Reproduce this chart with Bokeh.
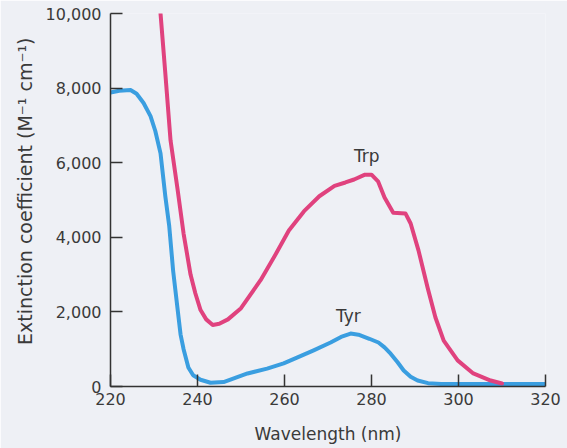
from bokeh.plotting import figure
from bokeh.models import Range1d, Label, FixedTicker, NumeralTickFormatter, Title
from bokeh.embed import file_html
from bokeh.resources import INLINE

# Wavelength (nm) and extinction coefficient (M^-1 cm^-1)
trp_wl = [231.5, 232.6, 233.8, 235.4, 236.8, 238.4, 239.5, 240.7, 242.0, 243.5, 245.0,
          247.0, 250.0, 254.5, 258.0, 261.0, 264.5, 268.0, 271.5, 274.0, 276.0, 278.5,
          280.0, 281.5, 283.0, 285.0, 287.8, 289.0, 290.8, 292.9, 294.7, 296.6, 299.8,
          303.4, 307.4, 310.0]
trp_eps = [10000, 8400, 6600, 5300, 4100, 3000, 2500, 2050, 1800, 1650, 1680,
           1800, 2100, 2850, 3550, 4180, 4700, 5100, 5380, 5470, 5550, 5680,
           5680, 5500, 5070, 4660, 4640, 4370, 3650, 2650, 1850, 1230, 700,
           350, 160, 80]

tyr_wl = [220.0, 222.0, 224.6, 226.0, 227.6, 229.2, 230.3, 231.5, 232.6, 233.5, 234.4,
          235.4, 236.1, 236.8, 237.9, 239.0, 240.7, 243.0, 246.0, 251.5, 256.0, 259.8,
          263.0, 266.7, 270.6, 273.0, 275.2, 277.0, 279.5, 281.6, 283.0, 284.4, 286.0,
          287.4, 289.0, 290.6, 293.0, 296.0, 320.0]
tyr_eps = [7880, 7930, 7950, 7850, 7600, 7250, 6850, 6250, 5100, 4300, 3100,
           2100, 1400, 1000, 510, 300, 180, 100, 120, 350, 480, 620,
           780, 970, 1180, 1330, 1420, 1390, 1280, 1180, 1050, 880, 650,
           430, 260, 160, 90, 70, 70]

x_ticks = [220, 240, 260, 280, 300, 320]
y_ticks = [0, 2000, 4000, 6000, 8000, 10000]

BG = "#eef0f5"
TXT = "#3a3a3a"
FONT = "DejaVu Sans"
PINK = "#e0427e"
BLUE = "#3a9ee0"

p = figure(width=567, height=448, output_backend="svg", toolbar_location=None,
           x_range=Range1d(220, 320), y_range=Range1d(0, 10000),
           min_border_left=110, min_border_right=22, min_border_top=13, min_border_bottom=62)
p.background_fill_color = BG
p.border_fill_color = BG
p.outline_line_color = None
p.grid.grid_line_color = None

p.line(tyr_wl, tyr_eps, line_color=BLUE, line_width=4, line_join="round", line_cap="round")
p.line(trp_wl, trp_eps, line_color=PINK, line_width=4, line_join="round", line_cap="round")

for ax in (p.xaxis[0], p.yaxis[0]):
    ax.axis_line_color = "#333333"
    ax.axis_line_width = 1.5
    ax.major_tick_line_color = "#333333"
    ax.major_tick_line_width = 1.5
    ax.major_tick_in = 12
    ax.major_tick_out = 0
    ax.minor_tick_line_color = None
    ax.major_label_text_font = FONT
    ax.major_label_text_font_size = "16px"
    ax.major_label_text_color = TXT

p.xaxis.ticker = FixedTicker(ticks=x_ticks)
p.yaxis.ticker = FixedTicker(ticks=y_ticks)
p.yaxis.formatter = NumeralTickFormatter(format="0,0")
p.xaxis.major_label_standoff = 6
p.yaxis.major_label_standoff = 9

p.xaxis.axis_label = "Wavelength (nm)"
p.xaxis.axis_label_text_font = FONT
p.xaxis.axis_label_text_font_size = "17px"
p.xaxis.axis_label_text_font_style = "normal"
p.xaxis.axis_label_text_color = TXT
p.xaxis.axis_label_standoff = 16

ytitle = Title(text="Extinction coefficient (M\u207b\u00b9 cm\u207b\u00b9)", align="right", offset=24,
               text_font=FONT, text_font_size="19px", text_font_style="normal",
               text_color=TXT, standoff=14)
p.add_layout(ytitle, "left")

p.add_layout(Label(x=278.9, y=6170, text="Trp", text_align="center", text_baseline="middle",
                   text_font=FONT, text_font_size="17px", text_color=TXT))
p.add_layout(Label(x=274.7, y=1880, text="Tyr", text_align="center", text_baseline="middle",
                   text_font=FONT, text_font_size="17px", text_color=TXT))

open("out.html", "w").write(file_html(p, INLINE))
